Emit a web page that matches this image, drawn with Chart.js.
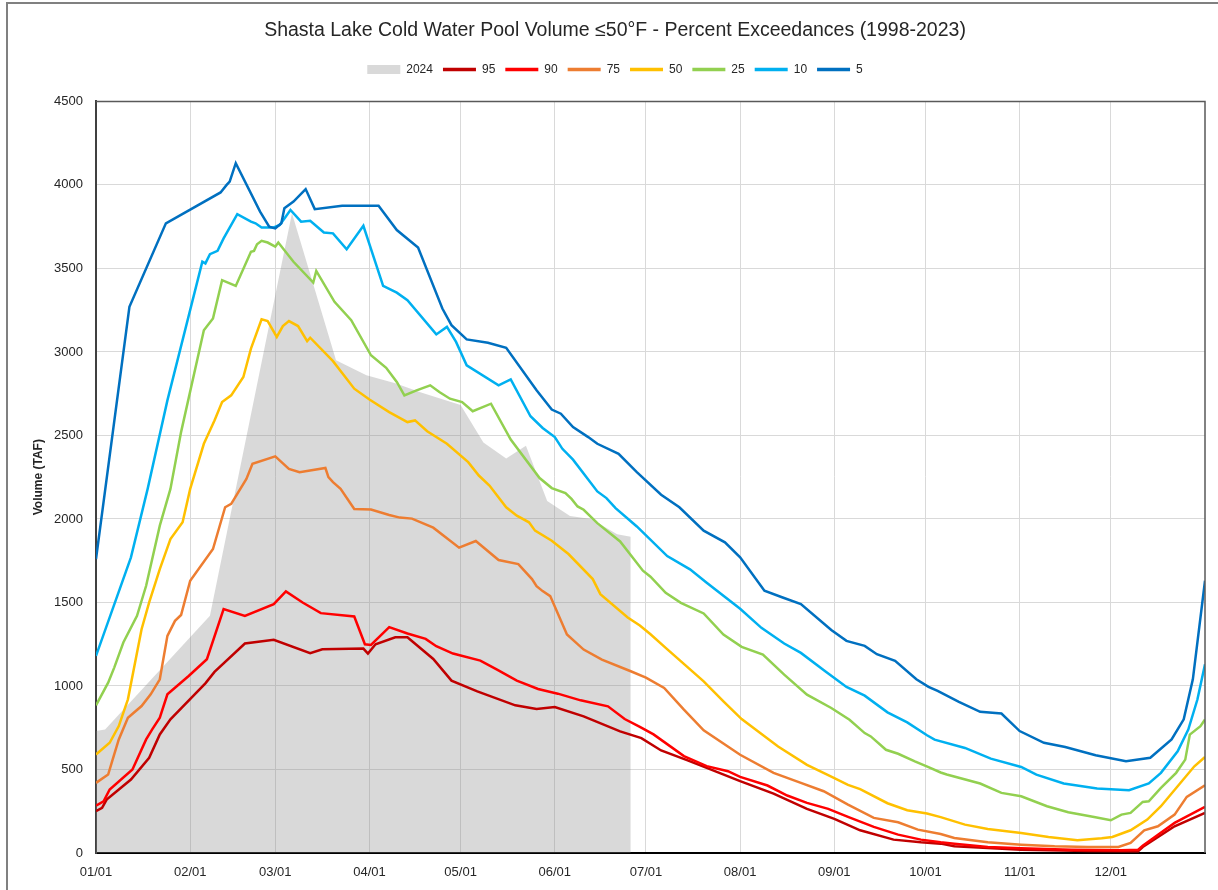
<!DOCTYPE html>
<html>
<head>
<meta charset="utf-8">
<script src="https://cdn.jsdelivr.net/npm/chart.js@4/dist/chart.umd.min.js"></script>
<style>
  html, body { margin: 0; padding: 0; background: #fff; }
  #wrap { width: 1218px; height: 890px; }
</style>
</head>
<body>
<div id="wrap"><canvas id="myChart" width="1218" height="890"></canvas></div>
<script>
// day of year (0 = 01/01) and volume (TAF)
const monthStarts = [0, 31, 59, 90, 120, 151, 181, 212, 243, 273, 304, 334];
const monthLabels = ["01/01", "02/01", "03/01", "04/01", "05/01", "06/01", "07/01", "08/01", "09/01", "10/01", "11/01", "12/01"];
const yTicks = [0, 500, 1000, 1500, 2000, 2500, 3000, 3500, 4000, 4500];

const y2024 = [[0,730],[3,740],[37.5,1420],[64.5,3830],[79,2950],[89,2860],[98.5,2813],[107,2757],[120,2682],[127.5,2458],[135,2362],[141.5,2438],[148.5,2108],[156,2018],[163,2000],[171.5,1908],[176,1894]];

const pct95 = [[0,250],[2,270],[3.5,320],[11.5,440],[17.5,570],[21,710],[24.5,800],[36,1016],[39,1084],[49,1254],[58.5,1276],[70.5,1196],[74.5,1220],[88,1224],[89.5,1194],[92,1250],[98.5,1292],[102.5,1292],[111,1162],[117,1032],[125.5,968],[138,884],[145,862],[151,874],[160.5,818],[172.5,728],[179.5,688],[186,614],[194.5,556],[201,510],[212,430],[223,356],[234,264],[243,204],[251.5,136],[262.5,80],[271.5,64],[278,56],[282.5,40],[304.5,20],[326.5,12],[343,10],[344.5,36],[355,160],[365,240]];

const pct90 = [[0,284],[2.5,310],[4.5,380],[12,500],[16.5,680],[18.5,740],[21,810],[23.5,950],[30.5,1060],[36.5,1160],[42,1460],[49,1420],[58.5,1490],[62.5,1566],[68,1500],[74,1436],[85,1416],[88.5,1250],[90.5,1246],[96.5,1352],[102.5,1314],[108.5,1282],[112,1238],[117.5,1194],[126.5,1152],[132,1098],[138.5,1032],[145.5,982],[152,954],[159.5,914],[168.5,878],[174,802],[179,755],[183.5,710],[193.5,580],[201,520],[208,490],[212,456],[221,404],[227.5,344],[234,300],[241,264],[247.5,216],[256,156],[264,110],[271.5,80],[278,64],[282.5,56],[293.5,36],[304.5,28],[321,20],[337.5,16],[343,20],[344.5,44],[355,180],[365,276]];

const pct75 = [[0,420],[4,470],[5.5,560],[7.5,680],[10.5,810],[15,880],[18,950],[21,1040],[23.5,1300],[26,1390],[28,1425],[31,1630],[38.5,1820],[42.5,2070],[44.5,2090],[49.5,2240],[51.5,2330],[59,2375],[63.5,2300],[67,2280],[75.5,2305],[76.5,2250],[78,2220],[80.5,2180],[85,2060],[90.5,2056],[96.5,2024],[100,2008],[104,2002],[111,1948],[119.5,1828],[125,1868],[132.5,1754],[139,1730],[143.5,1640],[145,1598],[147,1568],[149.5,1538],[155,1308],[160.5,1218],[166.5,1158],[176,1088],[181,1050],[187,988],[193.5,858],[200,734],[212,588],[223,480],[232,420],[239.5,370],[247.5,290],[256,210],[264,184],[270.5,140],[278,114],[282.5,90],[293.5,64],[304.5,50],[315.5,40],[326.5,36],[336.5,36],[340.5,60],[345,136],[349.5,160],[355,230],[359,336],[365,406]];

const pct50 = [[0,590],[4.5,660],[7.5,760],[10.5,920],[15,1340],[17.5,1500],[21,1700],[24.5,1880],[28.5,1980],[31,2180],[35.5,2450],[39,2590],[41.5,2700],[44.5,2740],[48.5,2850],[51,3020],[54.5,3195],[56.5,3185],[59.5,3090],[61.5,3155],[63.5,3185],[66.5,3155],[69.5,3065],[70.5,3085],[78,2945],[85,2780],[90,2715],[96.5,2640],[102.5,2580],[105,2590],[109,2525],[115.5,2450],[122.5,2340],[126,2260],[129.5,2200],[135,2070],[138.5,2020],[142.5,1980],[144.5,1930],[150,1870],[155.5,1790],[163.5,1640],[166,1550],[175,1410],[179,1362],[182.5,1310],[187.5,1228],[200,1028],[206.5,908],[212.5,802],[224.5,638],[234,528],[242,458],[247.5,408],[251.5,382],[260.5,298],[267,256],[273.5,236],[278,215],[286,170],[293.5,144],[304.5,120],[313.5,96],[323,76],[331,88],[334.5,96],[340.5,136],[346,200],[350.5,280],[356,400],[361.5,519],[365,575]];

const pct25 = [[0,884],[4,1020],[6,1110],[9,1260],[13.5,1420],[16.5,1600],[21,1960],[24.5,2180],[28,2520],[35.5,3130],[38.5,3200],[41.5,3430],[46,3395],[51,3600],[52,3605],[53,3645],[54.5,3665],[56.5,3655],[59,3630],[60,3655],[65,3540],[71.5,3415],[72.5,3485],[78.5,3300],[84,3190],[90.5,2980],[95.5,2905],[99,2820],[101.5,2740],[105.5,2770],[110,2800],[113,2760],[116.5,2720],[120.5,2700],[124,2645],[130,2690],[136.5,2475],[146,2245],[150,2185],[154.5,2155],[156.5,2120],[158.5,2075],[160.5,2055],[165,1975],[172.5,1865],[180,1690],[182.5,1654],[187.5,1558],[192.5,1498],[200,1434],[206.5,1308],[212.5,1234],[219.5,1188],[226.5,1068],[234,948],[242,868],[248,798],[253,718],[255,698],[260,618],[264,594],[269.5,548],[274,514],[278,482],[280,470],[291,416],[298,360],[304.5,340],[313,280],[320,244],[328.5,216],[334,196],[337.5,230],[340.5,240],[344.5,306],[346.5,310],[350.5,390],[355.5,480],[358.5,559],[360,709],[363.5,759],[365,800]];

const pct10 = [[0,1180],[11.5,1770],[17,2180],[23.5,2710],[35,3540],[36,3530],[37.5,3585],[40,3605],[42,3680],[46.5,3825],[51,3780],[52.5,3770],[54.5,3745],[58.5,3745],[60.5,3760],[64,3850],[67.5,3780],[70.5,3785],[75,3715],[78,3710],[82.5,3615],[88,3755],[94.5,3395],[99,3355],[102.5,3310],[112,3105],[115.5,3150],[118.5,3060],[122,2920],[132.5,2800],[136.5,2835],[143,2615],[147,2545],[151,2490],[153.5,2420],[157,2355],[165,2165],[168,2125],[171,2065],[178,1955],[188,1778],[195.5,1698],[201,1618],[212,1462],[219,1348],[226.5,1254],[232,1198],[240,1088],[247,994],[253,942],[260.5,842],[267,782],[273.5,705],[276,679],[286,629],[294.5,565],[304.5,515],[309.5,469],[318.5,416],[329.5,386],[340,376],[346.5,416],[350.5,480],[356,609],[359.5,739],[362.5,919],[365,1130]];

const pct5 = [[0,1760],[11,3270],[23,3770],[41,3955],[43,4000],[44,4020],[46,4130],[54,3840],[57,3750],[59,3740],[61,3770],[62,3860],[65,3900],[69,3975],[72,3855],[81,3875],[93,3875],[99,3730],[106,3625],[114,3260],[117,3160],[122,3075],[129,3055],[135,3025],[145,2770],[150,2655],[153,2630],[157,2550],[162,2490],[165,2450],[172,2390],[178,2280],[186,2145],[192,2070],[200,1930],[207,1860],[212,1770],[220,1570],[226,1530],[232,1490],[242,1335],[247,1270],[253,1240],[257,1190],[263,1150],[270,1040],[274,995],[277,970],[284,905],[291,845],[298,835],[304,730],[312,660],[319,635],[329,585],[339,550],[347,570],[354,680],[358,800],[361,1040],[365,1630]];

const toXY = (pairs) => pairs.map(([x, y]) => ({ x, y }));

const lineSet = (label, pairs, color, order) => ({
  label,
  data: toXY(pairs),
  borderColor: color,
  backgroundColor: color,
  borderWidth: 2.5,
  pointRadius: 0,
  pointHoverRadius: 0,
  pointStyle: "line",
  tension: 0,
  fill: false,
  order,
});

const frame = {
  id: "frame",
  beforeDraw(chart) {
    const c = chart.ctx;
    c.save();
    c.fillStyle = "#fff";
    c.fillRect(0, 0, chart.width, chart.height);
    c.restore();
  },
  afterDraw(chart) {
    const c = chart.ctx;
    const a = chart.chartArea;
    c.save();
    c.strokeStyle = "#808080";
    c.lineWidth = 2;
    c.beginPath();
    c.moveTo(7, chart.height);
    c.lineTo(7, 3);
    c.lineTo(chart.width, 3);
    c.stroke();
    c.strokeStyle = "#595959";
    c.lineWidth = 1.5;
    c.beginPath();
    c.moveTo(a.left, a.top);
    c.lineTo(a.right, a.top);
    c.lineTo(a.right, a.bottom);
    c.stroke();
    c.restore();
  },
};

const ctx = document.getElementById("myChart");
const font = "'Liberation Sans', Arial, sans-serif";

new Chart(ctx, {
  type: "line",
  data: {
    datasets: [
      {
        label: "2024",
        data: toXY(y2024),
        borderWidth: 0,
        borderColor: "rgba(0,0,0,0)",
        backgroundColor: "rgba(135,135,135,0.316)",
        pointRadius: 0,
        pointHoverRadius: 0,
        pointStyle: "rect",
        tension: 0,
        fill: "origin",
        order: 8,
      },
      lineSet("95", pct95, "#C00000", 7),
      lineSet("90", pct90, "#FF0000", 6),
      lineSet("75", pct75, "#ED7D31", 5),
      lineSet("50", pct50, "#FFC000", 4),
      lineSet("25", pct25, "#92D050", 3),
      lineSet("10", pct10, "#00B0F0", 2),
      lineSet("5", pct5, "#0070C0", 1),
    ],
  },
  options: {
    responsive: false,
    animation: false,
    events: [],
    layout: { padding: { left: 25, right: 13, top: 0, bottom: 0 } },
    plugins: {
      filler: { drawTime: "beforeDatasetsDraw" },
      tooltip: { enabled: false },
      title: {
        display: true,
        text: "Shasta Lake Cold Water Pool Volume ≤50°F - Percent Exceedances (1998-2023)",
        color: "#262626",
        font: { family: font, size: 19.5, weight: "normal" },
        padding: { top: 19, bottom: 11 },
      },
      legend: {
        display: true,
        labels: {
          usePointStyle: true,
          pointStyleWidth: 33,
          boxHeight: 9,
          padding: 10,
          color: "#262626",
          font: { family: font, size: 12 },
          sort: (a, b) => a.datasetIndex - b.datasetIndex,
          generateLabels: (chart) =>
            Chart.defaults.plugins.legend.labels.generateLabels(chart).map((item) => {
              if (item.pointStyle === "line") item.lineWidth = 3.5;
              return item;
            }),
        },
      },
    },
    scales: {
      x: {
        type: "linear",
        min: 0,
        max: 365,
        afterBuildTicks: (axis) => {
          axis.ticks = monthStarts.map((v) => ({ value: v }));
        },
        afterFit: (s) => {
          s.height = 37;
        },
        ticks: {
          autoSkip: false,
          maxRotation: 0,
          padding: 12,
          color: "#262626",
          font: { family: font, size: 13 },
          callback: (v) => monthLabels[monthStarts.indexOf(v)],
        },
        grid: { color: "#d9d9d9", lineWidth: 1, drawTicks: false },
        border: { color: "#000", width: 2 },
      },
      xTop: {
        type: "linear",
        axis: "x",
        position: "top",
        grid: { display: false },
        ticks: { display: false },
        border: { display: false },
        afterFit: (s) => {
          s.height = 16;
        },
      },
      y: {
        min: 0,
        max: 4500,
        afterBuildTicks: (axis) => {
          axis.ticks = yTicks.map((v) => ({ value: v }));
        },
        afterFit: (s) => {
          s.width = 71;
        },
        ticks: {
          padding: 13,
          color: "#262626",
          font: { family: font, size: 13 },
          callback: (v) => String(v),
        },
        grid: { color: "#d9d9d9", lineWidth: 1, drawTicks: false },
        border: { color: "#404040", width: 2 },
        title: {
          display: true,
          text: "Volume (TAF)",
          color: "#262626",
          font: { family: font, size: 12, weight: "bold" },
          padding: { top: 6, bottom: 0 },
        },
      },
    },
  },
  plugins: [frame],
});
</script>
</body>
</html>
